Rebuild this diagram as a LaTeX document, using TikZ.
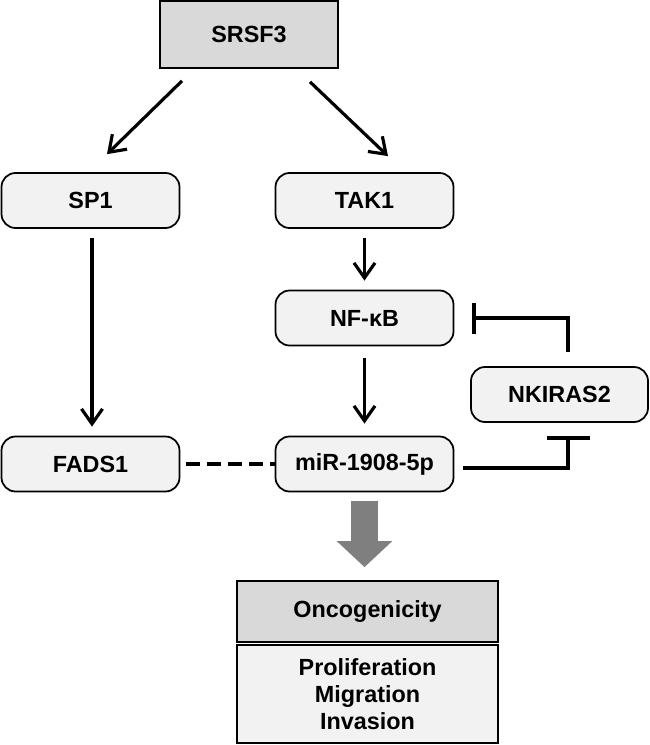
\documentclass[tikz,border=0pt]{standalone}
\usepackage{fontspec}
\setmainfont{Liberation Sans}
\usepackage{tikz}
\usetikzlibrary{arrows.meta,positioning,calc}
\usepackage{xcolor}
\definecolor{boxgray}{HTML}{F2F2F2}
\definecolor{headgray}{HTML}{D9D9D9}
\definecolor{arrgray}{HTML}{7F7F7F}

\begin{document}
\begin{tikzpicture}[
    gene/.style={rectangle, draw=black, fill=boxgray, rounded corners=8pt, line width=1pt,
                minimum width=3.56cm, minimum height=1.1cm, align=center,
                font=\fontsize{13.3}{15.2}\selectfont\bfseries},
    plainbox/.style={gene, rounded corners=0pt, fill=headgray},
    arr/.style={-{Straight Barb[length=3mm, width=4.2mm, line width=1.8pt]}, line width=1.8pt},
    inh/.style={line width=2.1pt},
    bigarr/.style={-{Triangle[length=0.52cm, width=1.08cm]}, line width=0.54cm, arrgray}
]
    \useasboundingbox (0,0) rectangle (13,-14.9);

    \node[plainbox, minimum height=1.34cm] (srsf3) at (4.98,-0.69) {SRSF3};
    \node[gene] (sp1) at (1.81,-4.01) {SP1};
    \node[gene] (tak1) at (7.29,-4.01) {TAK1};
    \node[gene] (nfkb) at (7.29,-6.36) {NF-κB};
    \node[gene] (mir) at (7.29,-9.28) {miR-1908-5p};
    \node[gene] (fads1) at (1.81,-9.28) {FADS1};
    \node[gene, minimum width=3.54cm] (nkiras2) at (11.19,-7.89) {NKIRAS2};
    \node[plainbox, minimum width=5.22cm, minimum height=1.22cm] (onco) at (7.35,-12.23) {Oncogenicity};
    \node[plainbox, fill=boxgray, minimum width=5.22cm, minimum height=1.96cm] (prolif) at (7.35,-13.88)
        {Proliferation\\Migration\\Invasion};

    % SRSF3 targets
    \draw[arr] ([shift={(-1.34,-0.24)}]srsf3.south) -- ([shift={(0.33,0.36)}]sp1.north);
    \draw[arr] ([shift={(1.22,-0.26)}]srsf3.south) -- ([shift={(0.47,0.32)}]tak1.north);

    \draw[arr, shorten <=0.18cm, shorten >=0.18cm] ([xshift=0.03cm]sp1.south) -- ([xshift=0.03cm]fads1.north);
    \draw[arr, shorten <=0.18cm, shorten >=0.18cm] (tak1) -- (nfkb);
    \draw[arr, shorten <=0.24cm, shorten >=0.24cm] (nfkb) -- (mir);

    \draw[line width=2.4pt, dash pattern=on 0.28cm off 0.14cm, shorten <=0.12cm] (fads1.east) -- (mir.west);

    % inhibition loop
    \draw[inh, -{Bar[width=0.86cm, line width=2.1pt]}] ([xshift=0.18cm, yshift=-0.08cm]mir.east)
        -| ([xshift=0.17cm, yshift=-0.26cm]nkiras2.south);
    \draw[inh, -{Bar[width=0.62cm, line width=2.1pt]}] ([xshift=0.17cm, yshift=0.28cm]nkiras2.north)
        |- ([xshift=0.36cm]nfkb.east);

    \draw[bigarr] ([yshift=-0.18cm]mir.south) -- ($(mir.south |- onco.north)+(0,0.26)$);
\end{tikzpicture}
\end{document}
